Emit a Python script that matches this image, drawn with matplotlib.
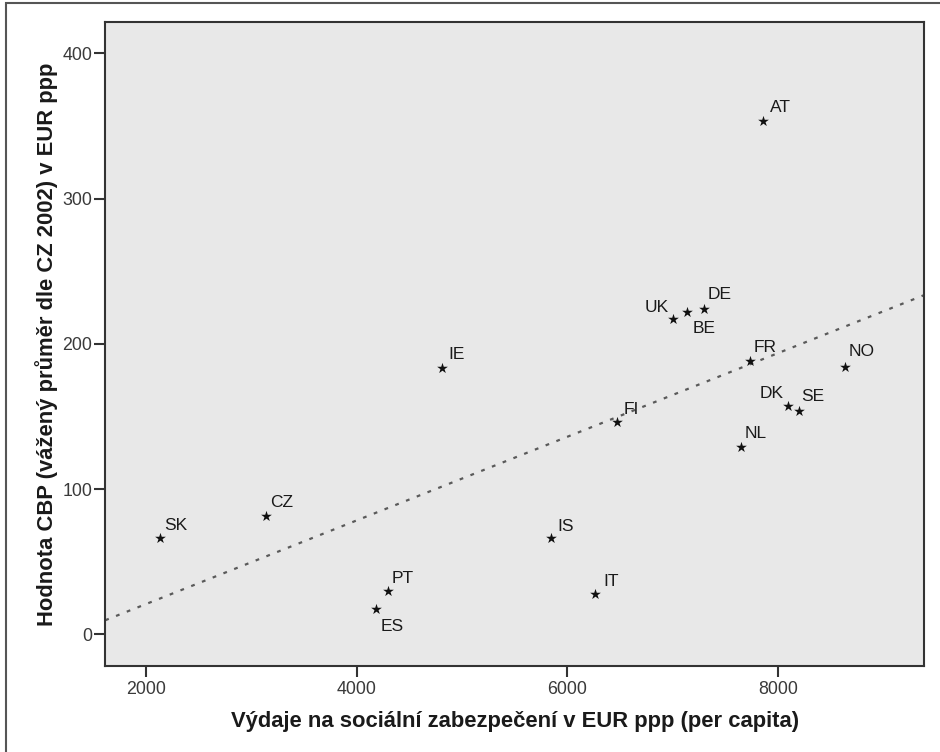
import numpy as np
import matplotlib
matplotlib.use("Agg")
import matplotlib.pyplot as plt
from matplotlib import font_manager
from matplotlib.patches import Rectangle

plt.rcParams['font.family'] = ['Liberation Sans', 'DejaVu Sans']

_installed = {f.name for f in font_manager.fontManager.ttflist}
TICK_FONT = 'Liberation Sans Narrow' if 'Liberation Sans Narrow' in _installed else 'Liberation Sans'
TICK_SIZE = 14.2 if TICK_FONT == 'Liberation Sans Narrow' else 12.8

# Country codes, social-security spending (EUR ppp per capita) and CBP value
countries = ["AT", "IE", "FI", "UK", "BE", "DE", "FR", "NO", "DK", "SE",
             "NL", "SK", "CZ", "PT", "ES", "IS", "IT"]
spending = [7858, 4808, 6467, 6998, 7131, 7293, 7729, 8630, 8089, 8194,
            7646, 2132, 3137, 4294, 4188, 5848, 6264]
cbp_value = [353.6, 183.5, 146.0, 216.9, 221.9, 224.0, 188.4, 184.0, 157.0, 153.9,
             129.2, 66.1, 81.7, 29.8, 17.2, 66.5, 28.0]

x_ticks = [2000, 4000, 6000, 8000]
y_ticks = [0, 100, 200, 300, 400]

# label placement: (dx, dy) in points, horizontal alignment
label_pos = {c: ((3, 6), 'left') for c in countries}
label_pos.update({
    "UK": ((-2.5, 5.5), 'right'),
    "DK": ((-3, 6), 'right'),
    "BE": ((4, -15), 'left'),
    "ES": ((3, -15.5), 'left'),
    "AT": ((4.5, 6.5), 'left'),
    "IE": ((4.5, 6), 'left'),
    "FI": ((5, 6), 'left'),
    "IS": ((4.5, 5), 'left'),
    "IT": ((5.5, 5.5), 'left'),
    "NO": ((2.5, 8), 'left'),
    "DE": ((2.5, 7), 'left'),
    "SE": ((2, 7), 'left'),
})

fig = plt.figure(figsize=(9.4, 7.52), dpi=100)
ax = fig.add_axes([0.1120, 0.1144, 0.8713, 0.8559])
ax.set_facecolor('#e8e8e8')

x = np.array(spending, dtype=float)
y = np.array(cbp_value, dtype=float)

ax.set_xlim(1617, 9385)
ax.set_ylim(-21.8, 421.3)

# linear fit line across the whole x range
slope, intercept = np.polyfit(x, y, 1)
xl = np.array(ax.get_xlim())
ax.plot(xl, intercept + slope * xl, color='#5a5a5a', lw=1.6,
        linestyle=(0, (1.7, 3.5)), zorder=2)

ax.scatter(x, y, marker='*', s=66, color='#111111', linewidths=0, zorder=3)

for c, xi, yi in zip(countries, x, y):
    (dx, dy), ha = label_pos[c]
    ax.annotate(c, (xi, yi), xytext=(dx, dy), textcoords='offset points',
                ha=ha, va='baseline', fontsize=12.5, color='#1a1a1a', zorder=4)

ax.set_xticks(x_ticks)
ax.set_yticks(y_ticks)
ax.tick_params(axis='both', direction='out', length=8, width=1.5,
               color='#333333', labelsize=TICK_SIZE, labelcolor='#3a3a3a')
ax.tick_params(axis='x', pad=3)
ax.tick_params(axis='y', pad=1.5)
for lbl in ax.get_xticklabels() + ax.get_yticklabels():
    lbl.set_fontfamily([TICK_FONT, 'DejaVu Sans'])
for side in ['top', 'right', 'bottom', 'left']:
    ax.spines[side].set_color('#333333')
    ax.spines[side].set_linewidth(1.5)

ax.set_xlabel("Výdaje na sociální zabezpečení v EUR ppp (per capita)",
              fontsize=15.8, fontweight='bold', color='#1a1a1a', labelpad=9.5)
ax.set_ylabel("Hodnota CBP (vážený průměr dle CZ 2002) v EUR ppp",
              fontsize=15.8, fontweight='bold', color='#1a1a1a', labelpad=3)

# outer frame around the figure
fig.patches.append(Rectangle((6 / 940, -0.05), 1.2, 1 - 3 / 752 + 0.05,
                             transform=fig.transFigure, fill=False,
                             edgecolor='#555555', lw=1.5, zorder=0))

fig.savefig("out.png", dpi=100, facecolor='white')
